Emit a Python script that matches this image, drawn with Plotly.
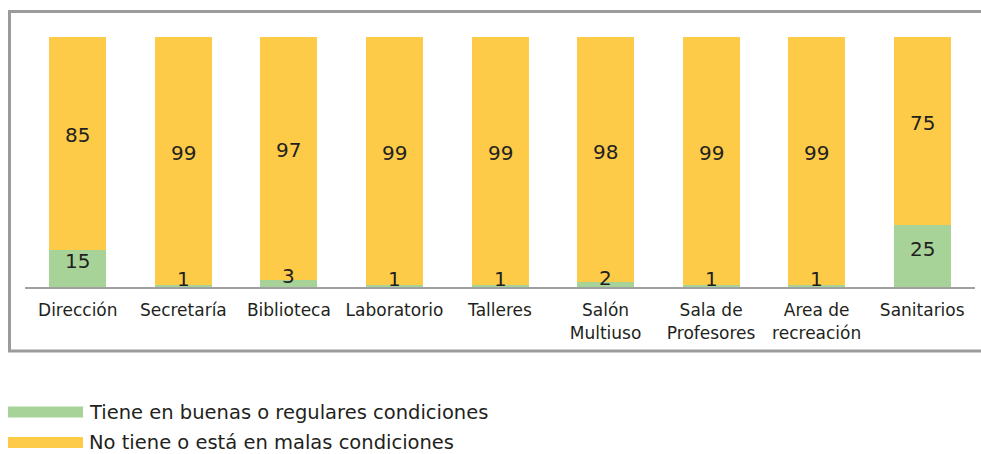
import plotly.graph_objects as go

categories = ["Dirección", "Secretaría", "Biblioteca", "Laboratorio", "Talleres",
              "Salón<br>Multiuso", "Sala de<br>Profesores", "Area de<br>recreación", "Sanitarios"]
buenas = [15, 1, 3, 1, 1, 2, 1, 1, 25]
malas = [85, 99, 97, 99, 99, 98, 99, 99, 75]
series_names = ["Tiene en buenas o regulares condiciones",
                "No tiene o está en malas condiciones"]

GREEN = "#A8D398"
YELLOW = "#FDCB47"
TEXT = "#231F20"
FONT = "DejaVu Sans"

fig = go.Figure()
fig.add_trace(go.Bar(x=categories, y=buenas, name=series_names[0],
                     marker=dict(color=GREEN, line=dict(width=0))))
fig.add_trace(go.Bar(x=categories, y=malas, name=series_names[1],
                     marker=dict(color=YELLOW, line=dict(width=0))))

# value labels centred on each segment
annotations = []
for cat, g, m in zip(categories, buenas, malas):
    annotations.append(dict(x=cat, y=g / 2, text=str(g), showarrow=False,
                            yshift=7, font=dict(size=20, color=TEXT, family=FONT)))
    annotations.append(dict(x=cat, y=g + m / 2, text=str(m), showarrow=False,
                            yshift=8, font=dict(size=20, color=TEXT, family=FONT)))

# custom legend below the frame
legend_rows = [(-0.5, GREEN), (-0.622, YELLOW)]
shapes = [dict(type="rect", xref="paper", yref="paper",
               x0=-0.0163, x1=1.02, y0=-0.256, y1=1.102,
               line=dict(color="#9B9B9B", width=3), fillcolor="rgba(0,0,0,0)")]
for (yc, col), name in zip(legend_rows, series_names):
    shapes.append(dict(type="rect", xref="paper", yref="paper",
                       x0=-0.0179, x1=0.0611, y0=yc - 0.022, y1=yc + 0.022,
                       line=dict(width=0), fillcolor=col))
    annotations.append(dict(xref="paper", yref="paper", x=0.0655, y=yc,
                            xanchor="left", yanchor="middle", text=name,
                            showarrow=False,
                            font=dict(size=19.5, color=TEXT, family=FONT)))

fig.update_layout(
    width=981, height=454,
    margin=dict(l=25, r=6, t=37, b=167),
    barmode="stack", bargap=0.46,
    showlegend=False,
    plot_bgcolor="white", paper_bgcolor="white",
    shapes=shapes, annotations=annotations,
    font=dict(family=FONT, color=TEXT),
    xaxis=dict(showline=True, linecolor="#A0A0A0", linewidth=2, ticks="",
               ticklabelstandoff=7,
               tickfont=dict(size=17, color=TEXT, family=FONT), showgrid=False),
    yaxis=dict(range=[0, 100], visible=False, showgrid=False),
)

fig.write_html("out.html")
